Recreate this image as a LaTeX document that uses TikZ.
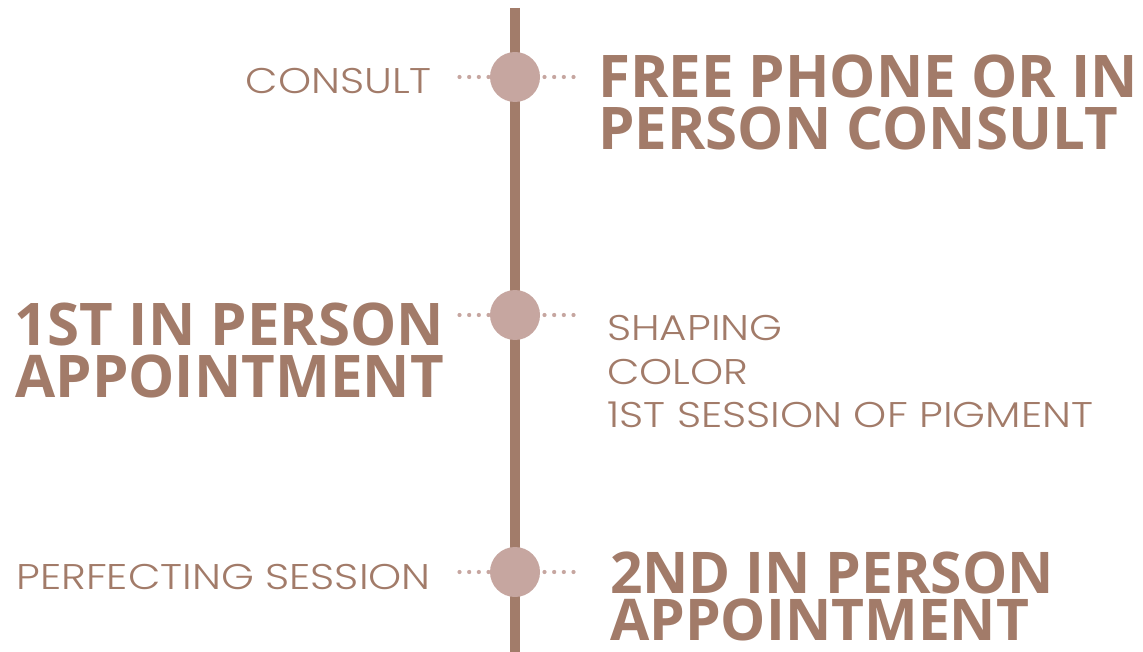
\documentclass[tikz,border=0pt]{standalone}
\usepackage{fontspec}
\newfontfamily\headfont{Open Sans}[FakeStretch=0.99]
\newfontfamily\lightfont{Poppins Light}[FakeStretch=1.18]
\definecolor{brownline}{HTML}{A27C6A}
\definecolor{browntext}{HTML}{A27B69}
\definecolor{rosedot}{HTML}{C6A6A0}
\tikzset{
  stepdot/.style={circle, fill=rosedot, minimum size=50pt, inner sep=0pt},
  dotrow/.style={rosedot, line width=4.2pt, line cap=round, dash pattern=on 0pt off 9.6667pt},
  headtext/.style={inner sep=0pt, text=browntext, font=\headfont\bfseries\fontsize{58.8}{52}\selectfont},
  lighttext/.style={inner sep=0pt, text=browntext, font=\lightfont\fontsize{35.7}{43.7}\selectfont}
}
\begin{document}
\begin{tikzpicture}[x=1pt, y=-1pt]
\useasboundingbox (0,0) rectangle (1143,652);
\coordinate (top) at (515,8);
\coordinate (bottom) at (515,652);
\draw[brownline, line width=10pt] (top) -- (bottom);
% dotted leaders
\foreach \i/\y in {1/77, 2/315, 3/572}{
  \coordinate (l\i a) at (459.5,\y);
  \coordinate (l\i b) at (491,\y);
  \coordinate (r\i a) at (544.5,\y);
  \coordinate (r\i b) at (575,\y);
  \draw[dotrow] (l\i a) -- (l\i b);
  \draw[dotrow] (r\i a) -- (r\i b);
}
\node[stepdot] (c1) at (515,77) {};
\node[stepdot] (c2) at (515,315) {};
\node[stepdot] (c3) at (515,572) {};
% labels
\node[lighttext, anchor=north east] (consult) at (432,68) {CONSULT};
\node[headtext, anchor=north west, align=left] (free) at (598,55) {FREE PHONE OR IN\\PERSON CONSULT};
\node[headtext, anchor=north east, align=right] (first) at (444,303) {1ST IN PERSON\\APPOINTMENT};
\node[lighttext, anchor=north west, align=left] (shaping) at (607,315) {SHAPING\\COLOR\\1ST SESSION OF PIGMENT};
\node[lighttext, anchor=north east] (perfect) at (431,564) {PERFECTING SESSION};
\node[headtext, anchor=north west, align=left, font=\headfont\bfseries\fontsize{57.5}{47}\selectfont] (second) at (610,552) {2ND IN PERSON\\APPOINTMENT};
\end{tikzpicture}
\end{document}
